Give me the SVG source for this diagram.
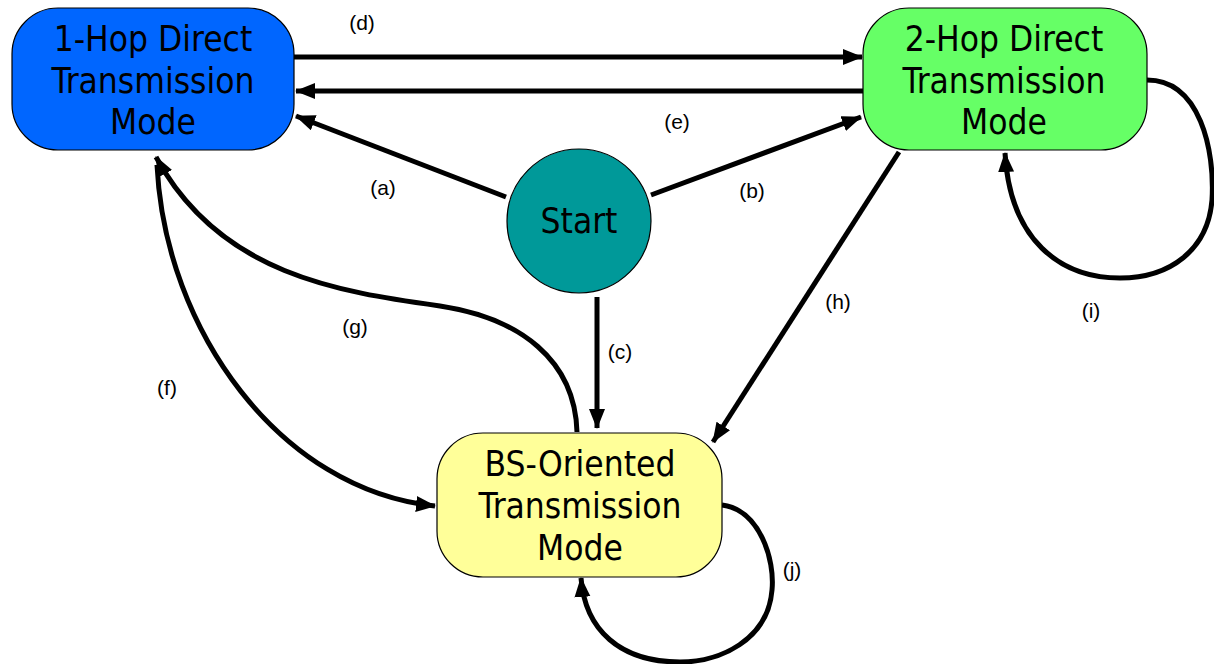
<svg xmlns="http://www.w3.org/2000/svg" width="1214" height="664" viewBox="0 0 1214 664">
<defs>
<marker id="ah" markerUnits="userSpaceOnUse" markerWidth="22" markerHeight="18" refX="19" refY="8" orient="auto">
<path d="M0,0 L20,8 L0,16 Z" fill="#000"/>
</marker>
<style>
.node{stroke:#000;stroke-width:1.2}
.nt{font-family:"DejaVu Sans Condensed","DejaVu Sans",sans-serif;font-size:35px;text-anchor:middle;fill:#000}
.c{fill:none;stroke:#000;stroke-width:5;marker-end:url(#ah)}
.lb{font-family:"Liberation Sans",Arial,sans-serif;font-size:21px;text-anchor:middle;fill:#000}
</style>
</defs>
<rect width="1214" height="664" fill="#fff"/>
<g id="connectors">
<path class="c" d="M294,57 L862,57"/>
<path class="c" d="M863,91 L296,91"/>
<path class="c" d="M506,197 L296,116"/>
<path class="c" d="M651,195 L861,117"/>
<path class="c" d="M597,297 L597,428"/>
<path class="c" d="M899,152 L713,442"/>
<path class="c" d="M1147,80 C1200,80 1215,150 1212,200 C1208,250 1170,278 1120,278 C1060,278 1010,240 1005,153"/>
<path class="c" d="M722,505 C760,510 775,560 772,590 C768,640 720,662 680,662 C620,662 585,630 581,578"/>
<path class="c" d="M157,165 C165,330 280,490 435,506"/>
<path class="c" d="M577,432 C575,360 520,318 440,306 C340,292 220,275 156,157"/>
</g>
<g id="labels">
<text class="lb" x="362" y="30">(d)</text>
<text class="lb" x="677" y="129">(e)</text>
<text class="lb" x="383" y="195">(a)</text>
<text class="lb" x="752" y="198">(b)</text>
<text class="lb" x="620" y="359">(c)</text>
<text class="lb" x="838" y="309">(h)</text>
<text class="lb" x="1091" y="318">(i)</text>
<text class="lb" x="167" y="395">(f)</text>
<text class="lb" x="355" y="334">(g)</text>
<text class="lb" x="792" y="577">(j)</text>
</g>
<g id="node-1hop">
<rect class="node" x="12" y="8" width="282" height="142" rx="46" fill="#0066ff"/>
<text class="nt" x="153" y="51">1-Hop Direct</text>
<text class="nt" x="153" y="93">Transmission</text>
<text class="nt" x="153" y="134">Mode</text>
</g>
<g id="node-2hop">
<rect class="node" x="863" y="8" width="284" height="142" rx="46" fill="#66ff66"/>
<text class="nt" x="1004" y="51">2-Hop Direct</text>
<text class="nt" x="1004" y="93">Transmission</text>
<text class="nt" x="1004" y="134">Mode</text>
</g>
<g id="node-start">
<circle class="node" cx="579" cy="221" r="72" fill="#009999"/>
<text class="nt" x="579" y="233">Start</text>
</g>
<g id="node-bs">
<rect class="node" x="437" y="433" width="285" height="144" rx="46" fill="#ffff99"/>
<text class="nt" x="580" y="476">BS-Oriented</text>
<text class="nt" x="580" y="518">Transmission</text>
<text class="nt" x="580" y="560">Mode</text>
</g>
</svg>
